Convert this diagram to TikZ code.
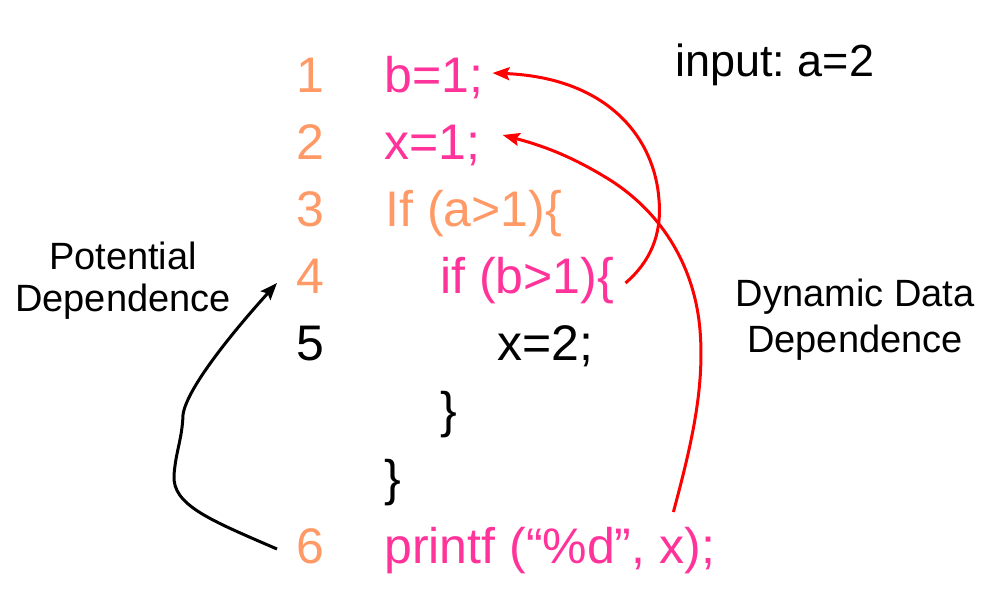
\documentclass[tikz,border=0pt]{standalone}
\usepackage{fontspec}
\setmainfont{Liberation Sans}
\usetikzlibrary{arrows.meta}
\frenchspacing
\definecolor{codepink}{RGB}{255,51,153}
\definecolor{codeorange}{RGB}{255,153,102}
\definecolor{arrred}{RGB}{255,0,0}
\tikzset{
  codetxt/.style={inner sep=0pt, anchor=base west, font=\fontsize{25}{29}\selectfont},
  lbltxt/.style={inner sep=0pt, anchor=base, font=\fontsize{19}{22}\selectfont},
  inputtxt/.style={inner sep=0pt, anchor=base west, font=\fontsize{22.5}{26}\selectfont},
  deparrow/.style={line width=1.5pt, -{Stealth[length=8.5pt,width=6.5pt,inset=1.5pt]}},
}
\begin{document}
\begin{tikzpicture}[x=0.5pt,y=-0.5pt]
\useasboundingbox (0,0) rectangle (1000,592);
% line numbers
\node[codetxt, text=codeorange] (n1) at (296,93) {1};
\node[codetxt, text=codeorange] (n2) at (296,160) {2};
\node[codetxt, text=codeorange] (n3) at (296,227) {3};
\node[codetxt, text=codeorange] (n4) at (296,294) {4};
\node[codetxt, text=black] (n5) at (296,361) {5};
\node[codetxt, text=codeorange] (n6) at (296,563) {6};
% code
\node[codetxt, text=codepink] (c1) at (384,93) {b=1;};
\node[codetxt, text=codepink] (c2) at (384,160) {x=1;};
\node[codetxt, text=codeorange] (c3) at (385,227) {If (a>1)\{};
\node[codetxt, text=codepink] (c4) at (440,294) {if (b>1)\{};
\node[codetxt, text=black] (c5) at (497,361) {x=2;};
\node[codetxt, text=black] (cb1) at (440,428) {\}};
\node[codetxt, text=black] (cb2) at (384,495) {\}};
\node[codetxt, text=codepink] (c6) at (384,563) {printf (“\%d”, x);};
% labels
\node[inputtxt] (inp) at (675,77) {input: a=2};
\node[lbltxt] (pot1) at (123,270) {Potential};
\node[lbltxt] (pot2) at (123,312) {Dependence};
\node[lbltxt] (dyn1) at (855,307) {Dynamic Data};
\node[lbltxt] (dyn2) at (855,353) {Dependence};
% connector end points
\coordinate (s1) at ([shift={(11,-11)}]c4.base east);
\coordinate (t1) at ([shift={(9,-20)}]c1.base east);
\coordinate (s2) at ([shift={(-42,-51)}]c6.base east);
\coordinate (t2) at ([shift={(22,-25)}]c2.base east);
\coordinate (s3) at ([shift={(-19,-14)}]n6.base west);
\coordinate (t3) at ([shift={(-19,-11)}]n4.base west);
% arrows
\draw[deparrow, arrred] (s1) .. controls (650,262) and (662,235) .. (659,200)
  .. controls (655,140) and (610,78) .. (t1);
\draw[deparrow, arrred] (s2) .. controls (690,450) and (705,390) .. (700,330)
  .. controls (695,270) and (665,215) .. (610,180)
  .. controls (570,155) and (540,145) .. (t2);
\draw[deparrow, black] (s3) .. controls (210,520) and (172,505) .. (174,475)
  .. controls (176,450) and (182,440) .. (183,415)
  .. controls (186,390) and (230,335) .. (t3);
\end{tikzpicture}
\end{document}
